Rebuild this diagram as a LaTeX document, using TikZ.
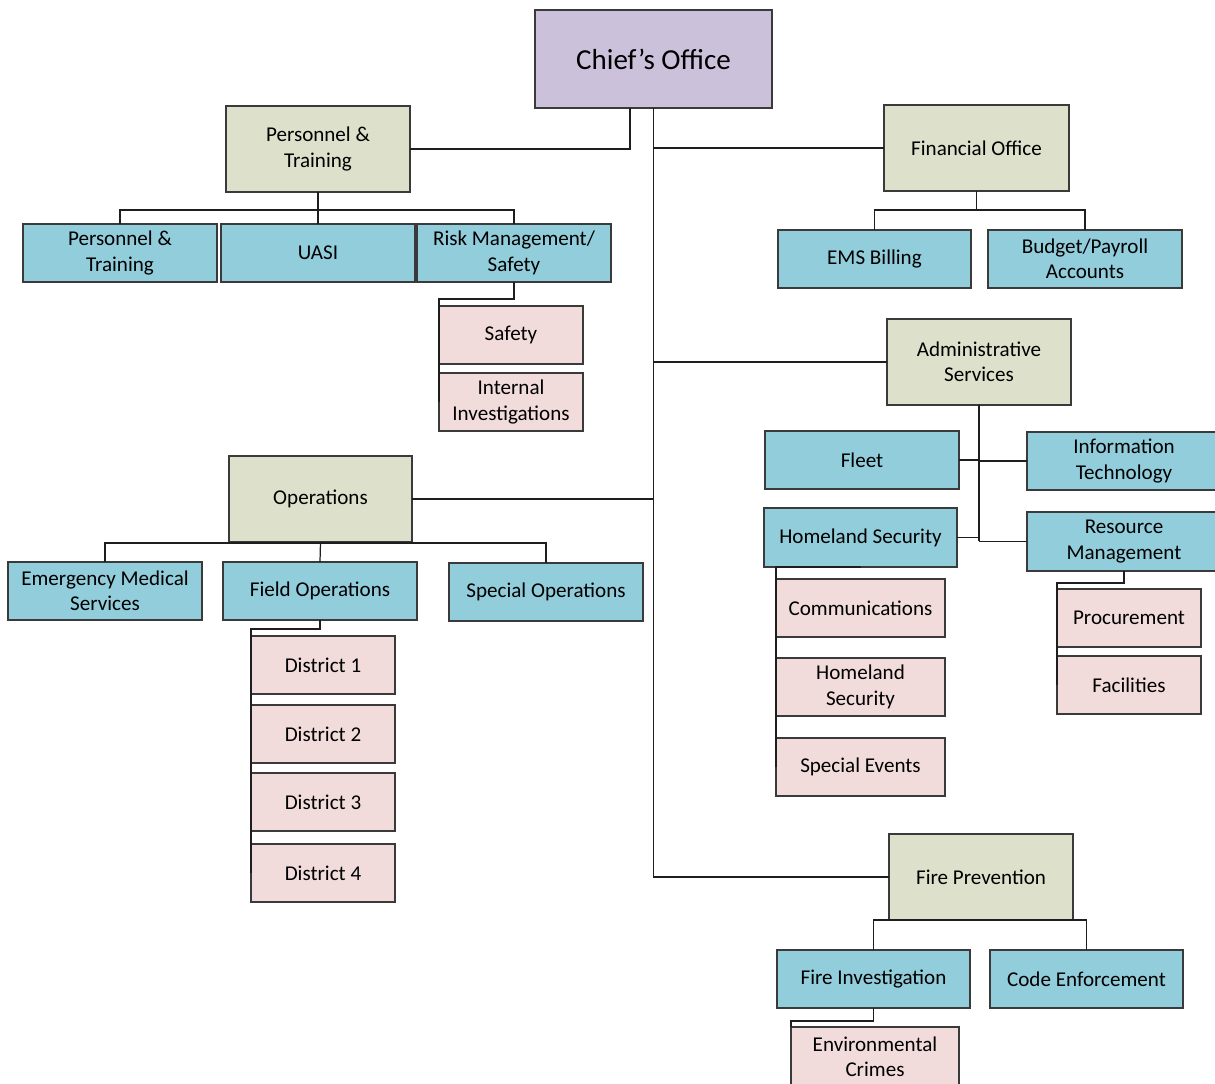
\documentclass[tikz,border=0pt]{standalone}
\usepackage{fontspec}
\setmainfont{Carlito}
\usetikzlibrary{calc}

\definecolor{chiefc}{HTML}{CCC1DA}
\definecolor{headc}{HTML}{DDE1CB}
\definecolor{unitc}{HTML}{92CDDC}
\definecolor{subc}{HTML}{F2DCDB}
\definecolor{edgec}{HTML}{3A3A3A}
\definecolor{linec}{HTML}{1E1E1E}

% \orgbox{name}{x1}{y1}{x2}{y2}{style}{text}: box given by its corners
\newcommand\orgbox[7]{%
  \pgfmathsetmacro\bcx{(#2+#4)/2}%
  \pgfmathsetmacro\bcy{(#3+#5)/2}%
  \pgfmathsetmacro\bw{(#4-#2)*0.02}%
  \pgfmathsetmacro\bh{(#5-#3)*0.02}%
  \node[#6, minimum width=\bw cm, minimum height=\bh cm] (#1) at (\bcx,\bcy) {#7};}

\begin{document}
\begin{tikzpicture}[x=0.02cm, y=-0.02cm,
  box/.style={draw=edgec, line width=0.75pt, inner sep=1pt, outer sep=0pt,
    align=center, text=black, font=\fontsize{12}{14.4}\selectfont},
  chiefbox/.style={box, fill=chiefc, font=\fontsize{16.5}{19}\selectfont},
  headbox/.style={box, fill=headc},
  unitbox/.style={box, fill=unitc},
  subbox/.style={box, fill=subc},
  link/.style={draw=linec, line width=0.7pt},
  trunk/.style={draw=linec, line width=1.3pt}]

\useasboundingbox (0,0) rectangle (1215,1084);
\clip (0,0) rectangle (1215,1084);

% ---- boxes ----
\orgbox{chief}{535}{10}{772}{108}{chiefbox}{Chief’s Office}

\orgbox{pt}{226}{106}{410}{192}{headbox}{Personnel \&\\Training}
\orgbox{pt1}{23}{224}{217}{282}{unitbox}{Personnel \&\\Training}
\orgbox{uasi}{221}{224}{415}{282}{unitbox}{UASI}
\orgbox{risk}{417}{224}{611}{282}{unitbox}{Risk Management/\\Safety}
\orgbox{safety}{439}{306}{583}{364}{subbox}{Safety}
\orgbox{inv}{439}{373}{583}{431}{subbox}{Internal\\Investigations}

\orgbox{fin}{884}{105}{1069}{191}{headbox}{Financial Office}
\orgbox{emsb}{778}{230}{971}{288}{unitbox}{EMS Billing}
\orgbox{bud}{988}{230}{1182}{288}{unitbox}{Budget/Payroll\\Accounts}

\orgbox{adm}{887}{319}{1071}{405}{headbox}{Administrative\\Services}
\orgbox{fleet}{765}{431}{959}{489}{unitbox}{Fleet}
\orgbox{it}{1027}{432}{1221}{490}{unitbox}{Information\\Technology}
\orgbox{hs}{764}{508}{957}{567}{unitbox}{Homeland Security}
\orgbox{rm}{1027}{512}{1221}{571}{unitbox}{Resource\\Management}
\orgbox{comm}{776}{579}{945}{637}{subbox}{Communications}
\orgbox{hsub}{776}{658}{945}{716}{subbox}{Homeland\\Security}
\orgbox{sev}{776}{738}{945}{796}{subbox}{Special Events}
\orgbox{proc}{1057}{589}{1201}{647}{subbox}{Procurement}
\orgbox{fac}{1057}{656}{1201}{714}{subbox}{Facilities}

\orgbox{ops}{229}{456}{412}{542}{headbox}{Operations}
\orgbox{emsv}{8}{562}{202}{620}{unitbox}{Emergency Medical\\Services}
\orgbox{fld}{223}{562}{417}{620}{unitbox}{Field Operations}
\orgbox{spec}{449}{563}{643}{621}{unitbox}{Special Operations}
\orgbox{d1}{251}{636}{395}{694}{subbox}{District 1}
\orgbox{d2}{251}{705}{395}{763}{subbox}{District 2}
\orgbox{d3}{251}{773}{395}{831}{subbox}{District 3}
\orgbox{d4}{251}{844}{395}{902}{subbox}{District 4}

\orgbox{fp}{889}{834}{1073}{920}{headbox}{Fire Prevention}
\orgbox{fi}{777}{950}{970}{1008}{unitbox}{Fire Investigation}
\orgbox{ce}{990}{950}{1183}{1008}{unitbox}{Code Enforcement}
\orgbox{env}{791}{1027}{959}{1086}{subbox}{Environmental\\Crimes}

% ---- connectors from the Chief's Office ----
\draw[link] ($(chief.south)+(-23.5,0)$) |- (pt.east);
\draw[link] (chief.south) -- (chief.south |- fp.west) -- (fp.west);
\draw[link] (chief.south |- fin.west) -- (fin.west);
\draw[link] (chief.south |- adm.west) -- (adm.west);
\draw[link] (chief.south |- ops.east) -- (ops.east);

% ---- Personnel & Training ----
\coordinate (ptbus) at ($(pt.south)+(0,18)$);
\draw[link] (pt.south) -- (ptbus);
\draw[link] (pt1.north) |- (ptbus) -| (risk.north);
\draw[link] (uasi.north) -- (uasi.north |- ptbus);
\coordinate (rkbus) at ($(risk.south)+(0,17)$);
\draw[link] (risk.south) -- (rkbus) -| (inv.west);

% ---- Financial Office ----
\coordinate (finbus) at ($(fin.south)+(0,19)$);
\draw[link] (fin.south) -- (finbus);
\draw[link] (emsb.north) |- (finbus) -| (bud.north);

% ---- Administrative Services ----
\draw[trunk] (adm.south) -- (adm.south |- rm.west);
\draw[link] (adm.south |- rm.west) -- (rm.west);
\draw[link] (fleet.east) -- (fleet.east -| adm.south);
\draw[link] (it.west) -- (it.west -| adm.south);
\draw[link] (hs.east) -- (hs.east -| adm.south);
\draw[link] (hs.south) -| (sev.west);
\draw[trunk] (hs.south) -- (hs.south -| sev.west);
\coordinate (rmbus) at ($(rm.south)+(0,12)$);
\draw[link] (rm.south) -- (rmbus) -| (fac.west);

% ---- Operations ----
\coordinate (opsbus) at ($(ops.south)+(0,1)$);
\draw[link] (emsv.north) |- (opsbus) -| (spec.north);
\draw[link] (ops.south) -- (fld.north);
\coordinate (fldbus) at ($(fld.south)+(0,9)$);
\draw[link] (fld.south) -- (fldbus) -| (d4.west);

% ---- Fire Prevention ----
\draw[link] (fi.north) |- (fp.south) -| (ce.north);
\coordinate (fibus) at ($(fi.south)+(0,13)$);
\draw[link] (fi.south) -- (fibus) -| (env.north west);

\end{tikzpicture}
\end{document}
